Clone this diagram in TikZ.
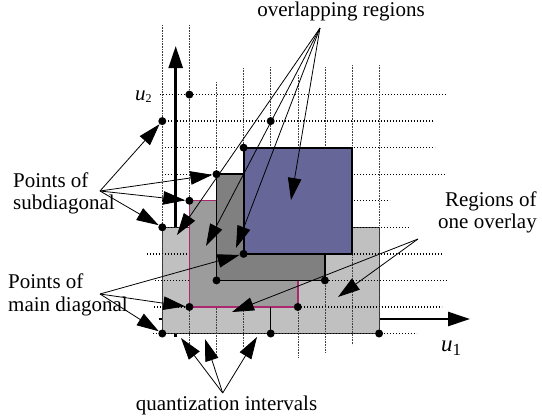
\documentclass[tikz,border=0pt]{standalone}
\usepackage{fontspec}
\setmainfont{Liberation Serif}
\usetikzlibrary{arrows.meta}
\definecolor{lgray}{RGB}{192,192,192}
\definecolor{mgray}{RGB}{156,156,156}
\definecolor{dgray}{RGB}{128,128,128}
\definecolor{bluer}{RGB}{102,102,153}
\definecolor{pinkb}{RGB}{170,40,110}
\begin{document}
\begin{tikzpicture}[x=1pt,y=-1pt,
  txt/.style={font=\fontsize{21}{22}\selectfont, inner sep=0pt},
  hgrid/.style={line width=1.3pt, dash pattern=on 1.3pt off 1.7pt},
  vgrid/.style={line width=0.6pt, black!75, dash pattern=on 0.8pt off 0.8pt},
  axisline/.style={line width=2.6pt, -{Triangle[length=22pt,width=14pt]}},
  ptr/.style={line width=0.8pt, -{Triangle[length=22pt,width=13.5pt]}},
  dot/.style={circle, fill=black, inner sep=0pt, minimum size=8pt},
]
\useasboundingbox (0,0) rectangle (542,418);
% grid coordinates
\foreach \i in {0,...,8}{
  \foreach \j in {0,...,9}{
    \coordinate (g\i\j) at ({162.3+27.1*\i},{333.5-26.55*\j});
  }
}
% axes (behind everything)
\coordinate (ax2s) at (175.7,337);
\coordinate (ax2e) at (175.7,46);
\coordinate (ax1s) at (159,319);
\coordinate (ax1e) at (470,319);
\draw[axisline] (ax2s) -- (ax2e);
\draw[axisline] (ax1s) -- (ax1e);
% light gray region
\draw[fill=lgray, draw=black!80, line width=0.9pt] (g00) rectangle (g84);
% dotted grid
\foreach \j/\l/\r in {0/153/417,1/154/442,2/155/448,3/147/443,4/162/410,5/162/390,6/162/445,7/162/435,8/162/433,9/160/446}
  \draw[hgrid] (\l,{333.5-26.55*\j}) -- (\r,{333.5-26.55*\j});
\foreach \i/\t/\b in {0/25/336,1/25/345,2/82/355,3/68/347,4/67/336,5/75/357,6/67/352,7/65/345,8/65/334}
  \draw[vgrid] ({162.3+27.1*\i},\t) -- ({162.3+27.1*\i},\b);
% overlay regions
\draw[fill=mgray, draw=pinkb, line width=1.4pt] (g11) rectangle (g55);
\draw[fill=dgray, draw=black, line width=1.6pt] (g22) rectangle (g66);
\draw[fill=bluer, draw=black, line width=1.8pt] (g33) rectangle (g77);
\draw[line width=1.5pt] (g40) -- (g41);
% points
\foreach \p in {00,40,80,11,51,22,62,33,04,15,26,37,08,48,19}
  \node[dot] (d\p) at (g\p) {};
% labels
\node[txt, anchor=base] (tOv) at (341,16) {overlapping regions};
\node[txt, anchor=base west] (tSa) at (13,187.3) {Points of};
\node[txt, anchor=base west] (tSb) at (13,209.3) {subdiagonal};
\node[txt, anchor=base west] (tMa) at (8,288.3) {Points of};
\node[txt, anchor=base west] (tMb) at (8,311) {main diagonal};
\node[txt, anchor=base] (tRa) at (490.8,206.7) {Regions of};
\node[txt, anchor=base] (tRb) at (487.5,228.3) {one overlay};
\node[txt, anchor=base] (tQ) at (226.5,410) {quantization intervals};
\node[txt, anchor=base west] (tu2) at (135,100) {\itshape u\raisebox{-2.3pt}{\fontsize{12}{12}\selectfont\upshape 2}};
\node[txt, anchor=base west, font=\fontsize{23}{23}\selectfont] (tu1) at (441,351.7) {\itshape u\raisebox{-3.3pt}{\fontsize{17}{17}\selectfont\upshape 1}};
% pointer apexes and free ends
\coordinate (aO) at (320,28);
\coordinate (aS) at (100,191);
\coordinate (aM) at (100,294);
\coordinate (aR) at (418,239);
\coordinate (aQ) at (222.7,393);
\coordinate (eO1) at (177,235);
\coordinate (eO2) at (206,246);
\coordinate (eO3) at (236,248);
\coordinate (eO4) at (291,200);
\coordinate (eR1) at (338,297);
\coordinate (eR2) at (232,312);
\coordinate (eQ1) at (181,338);
\coordinate (eQ2) at (205,339);
\coordinate (eQ3) at (257,337);
% pointers
\draw[ptr] (aO) -- (eO1);
\draw[ptr] (aO) -- (eO2);
\draw[ptr] (aO) -- (eO3);
\draw[ptr] (aO) -- (eO4);
\draw[ptr] (aS) -- (d08);
\draw[ptr] (aS) -- (d26);
\draw[ptr] (aS) -- (d15);
\draw[ptr] (aS) -- (d04);
\draw[ptr] (aM) -- (d00);
\draw[ptr] (aM) -- (d11);
\draw[ptr] (aM) -- (d33);
\draw[ptr] (aR) -- (eR1);
\draw[ptr] (aR) -- (eR2);
\draw[ptr] (aQ) -- (eQ1);
\draw[ptr] (aQ) -- (eQ2);
\draw[ptr] (aQ) -- (eQ3);
\end{tikzpicture}
\end{document}
